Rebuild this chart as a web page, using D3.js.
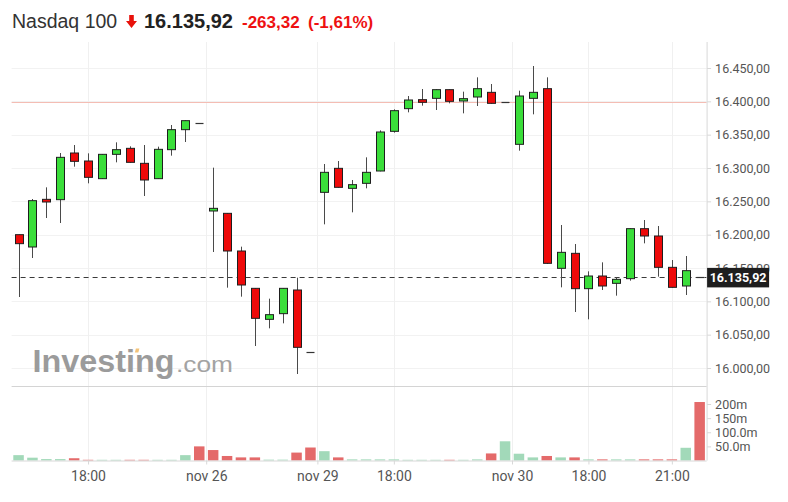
<!DOCTYPE html>
<html>
<head>
<meta charset="utf-8">
<script src="https://cdn.jsdelivr.net/npm/d3@7"></script>
<style>
  html, body { margin: 0; padding: 0; background: #fff; }
  svg { display: block; }
</style>
</head>
<body>
<svg id="chart" width="788" height="502"></svg>
<script>
// ---------- DATA ----------
const opens  = [16200,16181.5,16253,16252.5,16322.5,16310.5,16284,16320.5,16329.5,16307,16284,16327.5,16357.5,16367,16235.5,16232,16175.5,16119.5,16073,16081.5,16117,16024,16263.5,16299.5,16269.5,16277,16295.5,16355,16389,16402.5,16404.5,16417.5,16400.5,16406.5,16413.5,16399,16335.5,16404.5,16419,16149.5,16172,16119,16138,16127,16134,16209,16198,16151,16123,16135.92];
const highs  = [16200,16253.5,16271,16322.5,16334.5,16322,16321,16338.5,16332.5,16334.5,16332,16364.5,16371.5,16367,16300.5,16232.5,16182,16120,16104,16120,16135.5,16024,16306,16310.5,16282,16316,16356.5,16388,16408,16418.5,16418,16418,16414.5,16436,16426,16399,16416,16453,16436,16214.5,16186,16145,16158.5,16136,16209.5,16222,16213,16162,16168,16135.92];
const lows   = [16106.5,16165,16225,16217.5,16302,16277,16283.5,16308.5,16308,16258,16283.5,16318.5,16339,16367,16174,16120.5,16107,16033,16059.5,16067,15991,16024,16215.5,16270.5,16233.5,16269.5,16295,16353,16383.5,16393.5,16387,16397,16382,16393,16396.5,16399,16326,16380.5,16156,16121,16084,16073,16117,16108.5,16131,16187,16137,16120.5,16109.5,16135.92];
const closes = [16186.5,16251,16249,16316,16310,16286,16320.5,16327.5,16308.5,16282,16328,16357.5,16371,16367,16239.5,16175.5,16124.5,16074.5,16080,16119.5,16031,16024,16293.5,16271,16275,16293.5,16354,16386,16402,16398.5,16417.5,16400,16404,16419,16397,16399,16408,16413.5,16157,16173.5,16119,16138,16123,16133,16209,16198,16151,16121,16146,16135.92];
// volume in millions
const volumes = [19,10,5,5,8,2.5,2.5,2.5,2.5,2.5,2.5,2.5,19,50,37,16,11,11,3,3,28,46,33,11,4,4,4,4,2.5,2.5,2.5,2.5,2.5,4,25,68,24,11,16,11,11,4,4,4,4,4,4,4,45,207];
const volDir  = ["u","u","u","u","d","d","u","u","d","d","u","u","u","d","d","d","d","d","u","u","d","d","u","d","u","u","u","u","u","u","u","d","u","u","d","u","u","u","d","u","d","u","d","u","u","d","d","d","u","d"];

const xTickIndex  = [5, 13.5, 21.5, 27, 35.5, 41, 47];
const xTickLabels = ["18:00","nov 26","nov 29","18:00","nov 30","18:00","21:00"];
const priceTicks  = [16000,16050,16100,16150,16200,16250,16300,16350,16400,16450];
const volTicks    = [50,100,150,200];
const volTickLabels = ["50.0m","100.0m","150m","200m"];

const instrument = "Nasdaq 100";
const lastPrice = 16135.92;
const change = -263.32;
const changePct = -1.61;
const prevClose = 16399.24;

// ---------- LAYOUT ----------
const svg = d3.select("#chart");
const left = 11.6, right = 706.6;
const priceTop = 42, priceBottom = 387;
const volTop = 388, volBottom = 460.5;

const fmtLocale = d3.formatLocale({decimal: ",", thousands: ".", grouping: [3], currency: ["", ""]});
const fmt2 = fmtLocale.format(",.2f");

const x = d3.scaleLinear().domain([-0.5, opens.length - 0.5]).range([left, right]);
const y = d3.scaleLinear().domain([16000, 16450]).range([368, 68]);
const yv = d3.scaleLinear().domain([0, 200]).range([volBottom, 404]);

const GREEN = "#3ade3a", RED = "#ee0a0a";
const VGREEN = "#a2d9b9", VRED = "#e46a6a";

// ---------- GRID ----------
const grid = svg.append("g");
grid.selectAll("line.h").data(priceTicks).join("line")
  .attr("x1", left).attr("x2", right)
  .attr("y1", d => Math.round(y(d)) + 0.5).attr("y2", d => Math.round(y(d)) + 0.5)
  .attr("stroke", "#f2f2f2");
grid.selectAll("line.v").data(xTickIndex).join("line")
  .attr("x1", d => Math.round(x(d)) + 0.5).attr("x2", d => Math.round(x(d)) + 0.5)
  .attr("y1", priceTop).attr("y2", volBottom)
  .attr("stroke", "#f0f0f0");

// panel separator
svg.append("line").attr("x1", left).attr("x2", right)
  .attr("y1", priceBottom - 0.5).attr("y2", priceBottom - 0.5)
  .attr("stroke", "#d4d4d4");

// ---------- WATERMARK ----------
const wm = svg.append("g");
wm.append("text").attr("x", 32.5).attr("y", 372)
  .attr("font-family", "Liberation Sans, Arial, sans-serif")
  .attr("font-weight", "bold").attr("font-size", 31)
  .attr("textLength", 142).attr("lengthAdjust", "spacingAndGlyphs")
  .attr("fill", "#9b9b9b").text("Investing");
wm.append("text").attr("x", 176).attr("y", 372)
  .attr("font-family", "Liberation Sans, Arial, sans-serif")
  .attr("font-size", 22)
  .attr("textLength", 57).attr("lengthAdjust", "spacingAndGlyphs")
  .attr("fill", "#a3a3a3").text(".com");
wm.append("rect").attr("x", 135.5).attr("y", 348.5).attr("width", 3.5).attr("height", 4)
  .attr("fill", "#f3c37a").attr("transform", "skewX(-15)")
  .attr("transform-origin", "137 350");

// ---------- REFERENCE LINES ----------
svg.append("line").attr("x1", left).attr("x2", right)
  .attr("y1", Math.round(y(prevClose)) + 0.5).attr("y2", Math.round(y(prevClose)) + 0.5)
  .attr("stroke", "#f4bdb4").attr("stroke-width", 1);
svg.append("line").attr("x1", left).attr("x2", right)
  .attr("y1", Math.round(y(lastPrice)) + 0.5).attr("y2", Math.round(y(lastPrice)) + 0.5)
  .attr("stroke", "#3a3a3a").attr("stroke-width", 1).attr("stroke-dasharray", "5,4");

// ---------- VOLUME ----------
const vw = 10.5;
svg.append("g").selectAll("rect").data(volumes).join("rect")
  .attr("x", (d, i) => x(i) - vw / 2)
  .attr("width", vw)
  .attr("y", d => yv(d))
  .attr("height", d => volBottom - yv(d))
  .attr("fill", (d, i) => volDir[i] === "u" ? VGREEN : VRED);

// ---------- CANDLES ----------
const cw = 8;
const candles = svg.append("g").selectAll("g").data(opens.map((o, i) => i)).join("g");
candles.append("line")
  .attr("x1", i => Math.round(x(i)) + 0.5).attr("x2", i => Math.round(x(i)) + 0.5)
  .attr("y1", i => y(highs[i])).attr("y2", i => y(lows[i]))
  .attr("stroke", "#4a4a4a").attr("stroke-width", 1);
candles.filter(i => opens[i] !== closes[i]).append("rect")
  .attr("x", i => Math.round(x(i)) + 0.5 - cw / 2)
  .attr("width", cw)
  .attr("y", i => y(Math.max(opens[i], closes[i])))
  .attr("height", i => Math.max(1.5, Math.abs(y(opens[i]) - y(closes[i]))))
  .attr("fill", i => closes[i] > opens[i] ? GREEN : RED)
  .attr("stroke", "#1e1e1e").attr("stroke-width", 1);
candles.filter(i => opens[i] === closes[i]).append("line")
  .attr("x1", i => Math.round(x(i)) + 0.5 - cw / 2).attr("x2", i => Math.round(x(i)) + 0.5 + cw / 2)
  .attr("y1", i => Math.round(y(opens[i])) + 0.5).attr("y2", i => Math.round(y(opens[i])) + 0.5)
  .attr("stroke", "#333").attr("stroke-width", 1.2);

// ---------- AXES ----------
const axisFont = "Roboto, 'Noto Sans', sans-serif";
const yAxis = svg.append("g").attr("transform", `translate(${right + 0.5},0)`)
  .call(d3.axisRight(y).tickValues(priceTicks).tickFormat(fmt2).tickSize(4).tickPadding(4));
yAxis.select(".domain").remove();
yAxis.selectAll("line").attr("stroke", "#d8d8d8");
yAxis.selectAll("text").attr("font-family", axisFont).attr("font-size", 12.5).attr("fill", "#555");

const vAxis = svg.append("g").attr("transform", `translate(${right + 0.5},0)`)
  .call(d3.axisRight(yv).tickValues(volTicks).tickFormat((d, i) => volTickLabels[i]).tickSize(4).tickPadding(4));
vAxis.select(".domain").remove();
vAxis.selectAll("line").attr("stroke", "#d8d8d8");
vAxis.selectAll("text").attr("font-family", axisFont).attr("font-size", 12.5).attr("fill", "#555");

// right axis line
svg.append("line").attr("x1", right + 0.5).attr("x2", right + 0.5)
  .attr("y1", priceTop).attr("y2", volBottom).attr("stroke", "#d8d8d8");

const xAxis = svg.append("g").attr("transform", `translate(0,${volBottom})`)
  .call(d3.axisBottom(x).tickValues(xTickIndex).tickFormat((d, i) => xTickLabels[i]).tickSize(4).tickPadding(7));
xAxis.select(".domain").attr("d", `M${left},0.5H${right}`).attr("stroke", "#d8d8d8");
xAxis.selectAll("line").attr("stroke", "#d8d8d8");
xAxis.selectAll("text").attr("font-family", axisFont).attr("font-size", 14).attr("fill", "#555");

// last price label
const lp = svg.append("g");
lp.append("rect").attr("x", right + 0.5).attr("y", y(lastPrice) - 9.5)
  .attr("width", 62).attr("height", 19.5).attr("fill", "#1e1e1e");
lp.append("text").attr("x", right + 31.5).attr("y", y(lastPrice) + 4.5)
  .attr("text-anchor", "middle").attr("font-family", axisFont)
  .attr("font-weight", "bold").attr("font-size", 12.5).attr("fill", "#fff")
  .text(fmt2(lastPrice));

// ---------- TITLE ----------
const tFont = "Liberation Sans, Arial, Helvetica, sans-serif";
svg.append("text").attr("x", 12).attr("y", 28)
  .attr("font-family", tFont).attr("font-size", 19.5).attr("fill", "#333")
  .text(instrument);
// down arrow
svg.append("path")
  .attr("d", "M129.2,15 H133.8 V21 H137 L131.5,28 L126,21 H129.2 Z")
  .attr("fill", "#e8110b");
svg.append("text").attr("x", 144).attr("y", 28)
  .attr("font-family", tFont).attr("font-weight", "bold").attr("font-size", 20).attr("fill", "#222")
  .text(fmt2(lastPrice));
const fmtSigned = v => (v < 0 ? "-" : "+") + fmt2(Math.abs(v));
svg.append("text").attr("x", 242).attr("y", 28)
  .attr("font-family", tFont).attr("font-weight", "bold").attr("font-size", 17).attr("fill", "#ee1111")
  .text(fmtSigned(change));
svg.append("text").attr("x", 308).attr("y", 28)
  .attr("font-family", tFont).attr("font-weight", "bold").attr("font-size", 17).attr("fill", "#ee1111")
  .text("(" + fmtSigned(changePct) + "%)");
</script>
</body>
</html>
